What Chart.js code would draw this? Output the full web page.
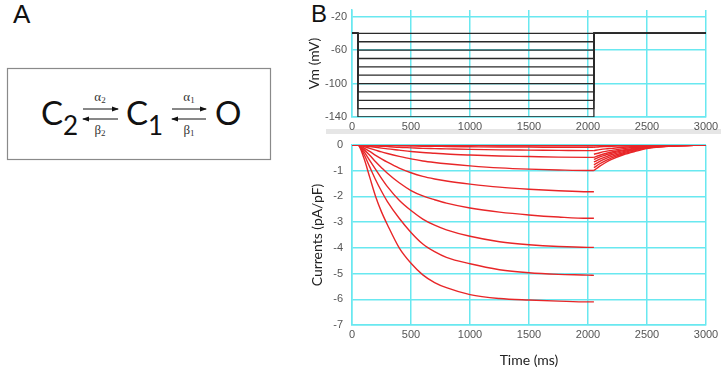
<!DOCTYPE html>
<html>
<head>
<meta charset="utf-8">
<script src="https://cdn.jsdelivr.net/npm/chart.js"></script>
<style>
    body { margin: 0; width: 721px; height: 369px; background: #fff; position: relative; overflow: hidden; }
    #scheme { position: absolute; left: 0; top: 0; }
    #band { position: absolute; left: 326px; top: 129px; width: 395px; height: 5px; background: #e6e6e6; }
    #vmChart { position: absolute; left: 300px; top: 0; }
    #curChart { position: absolute; left: 300px; top: 135px; }
</style>
</head>
<body>
<svg id="scheme" width="721" height="369">
    <defs>
        <marker id="head" markerWidth="7" markerHeight="6" refX="6" refY="3" orient="auto" markerUnits="userSpaceOnUse">
            <path d="M0,0.5 L7,3 L0,5.5 Z" fill="#111"></path>
        </marker>
    </defs>
    <text x="13" y="23" font-family="Liberation Sans, Arial" font-size="26" fill="#111">A</text>
    <text x="311" y="22" font-family="Liberation Sans, Arial" font-size="24" fill="#111">B</text>
    <rect x="7.5" y="68.5" width="263" height="91" fill="none" stroke="#8a8a8a" stroke-width="1.2"></rect>
    <g font-family="Lato, Open Sans, sans-serif" fill="#111">
        <text x="41" y="125" font-size="33">C<tspan dy="10" font-size="26">2</tspan></text>
        <text x="126" y="125" font-size="33">C<tspan dy="10" font-size="26">1</tspan></text>
        <text x="215" y="125" font-size="33">O</text>
    </g>
    <g stroke="#111" stroke-width="1">
        <line x1="83" y1="109" x2="118" y2="109" marker-end="url(#head)"></line>
        <line x1="118" y1="119" x2="83" y2="119" marker-end="url(#head)"></line>
        <line x1="172" y1="109" x2="206" y2="109" marker-end="url(#head)"></line>
        <line x1="206" y1="119" x2="172" y2="119" marker-end="url(#head)"></line>
    </g>
    <g font-family="Liberation Serif, DejaVu Serif, serif" font-size="13" fill="#333" text-anchor="middle">
        <text x="100" y="101">α<tspan dy="2" font-size="9">2</tspan></text>
        <text x="100" y="134">β<tspan dy="2" font-size="9">2</tspan></text>
        <text x="189" y="101">α<tspan dy="2" font-size="9">1</tspan></text>
        <text x="189" y="134">β<tspan dy="2" font-size="9">1</tspan></text>
    </g>
</svg>
<div id="band"></div>
<canvas id="vmChart" width="421" height="131"></canvas>
<canvas id="curChart" width="421" height="234"></canvas>
<script>
var timeTicks = [0, 500, 1000, 1500, 2000, 2500, 3000];
var vmTicks = [-140, -100, -60, -20];
var currentTicks = [-7, -6, -5, -4, -3, -2, -1, 0];

var holdingVm = -40;
var pulseStart = 50;
var pulseEnd = 2050;
var stepVm = [-40, -50, -60, -70, -80, -90, -100, -110, -120, -130, -140];

var pulseTimes = [0, 50, 100, 150, 200, 250, 300, 400, 500, 600, 700, 800, 1000, 1250, 1500, 1750, 2000, 2050];
var tailTimes = [2050, 2100, 2150, 2200, 2300, 2400, 2500, 2700, 3000];

// currents during the step (pA/pF), one array per step voltage
var iPulse140 = [0, 0, -0.5, -1.25, -2.0, -2.6, -3.1, -4.0, -4.6, -5.05, -5.35, -5.55, -5.82, -5.97, -6.03, -6.07, -6.1, -6.1];
var iPulse130 = [0, 0, -0.35, -0.85, -1.35, -1.8, -2.2, -2.85, -3.4, -3.85, -4.15, -4.37, -4.62, -4.85, -4.97, -5.03, -5.06, -5.07];
var iPulse120 = [0, 0, -0.25, -0.6, -0.95, -1.3, -1.62, -2.15, -2.55, -2.88, -3.12, -3.3, -3.55, -3.76, -3.88, -3.95, -3.98, -3.98];
var iPulse110 = [0, 0, -0.17, -0.4, -0.65, -0.88, -1.1, -1.47, -1.77, -1.98, -2.13, -2.26, -2.45, -2.61, -2.72, -2.8, -2.85, -2.85];
var iPulse100 = [0, 0, -0.11, -0.25, -0.4, -0.54, -0.67, -0.9, -1.08, -1.22, -1.32, -1.4, -1.52, -1.64, -1.72, -1.78, -1.82, -1.82];
var iPulse90 = [0, 0, -0.06, -0.13, -0.2, -0.27, -0.33, -0.44, -0.54, -0.62, -0.68, -0.73, -0.81, -0.89, -0.94, -0.97, -0.99, -0.99];
var iPulse80 = [0, 0, -0.03, -0.06, -0.09, -0.12, -0.15, -0.2, -0.25, -0.29, -0.32, -0.35, -0.39, -0.43, -0.45, -0.47, -0.48, -0.48];
var iPulse70 = [0, 0, -0.01, -0.03, -0.04, -0.05, -0.06, -0.09, -0.11, -0.13, -0.14, -0.15, -0.17, -0.19, -0.2, -0.21, -0.22, -0.22];
var iPulse60 = [0, 0, 0, -0.01, -0.01, -0.02, -0.02, -0.03, -0.04, -0.05, -0.05, -0.06, -0.07, -0.08, -0.08, -0.09, -0.09, -0.09];
var iPulse50 = [0, 0, 0, 0, 0, 0, -0.01, -0.01, -0.01, -0.02, -0.02, -0.02, -0.02, -0.03, -0.03, -0.03, -0.03, -0.03];
var iPulse40 = [0, 0, 0, 0, 0, 0, 0, 0, 0, 0, 0, 0, 0, 0, 0, 0, 0, 0];

// tail currents after return to holding
var iTail140 = [-0.36, -0.3, -0.25, -0.21, -0.14, -0.09, -0.05, -0.02, 0];
var iTail130 = [-0.56, -0.46, -0.39, -0.32, -0.22, -0.14, -0.08, -0.03, 0];
var iTail120 = [-0.66, -0.55, -0.46, -0.38, -0.26, -0.17, -0.09, -0.03, 0];
var iTail110 = [-0.77, -0.64, -0.53, -0.44, -0.3, -0.19, -0.11, -0.04, 0];
var iTail100 = [-0.88, -0.73, -0.61, -0.5, -0.34, -0.22, -0.12, -0.04, 0];
var iTail90 = [-0.99, -0.82, -0.68, -0.56, -0.38, -0.25, -0.14, -0.05, 0];
var iTail80 = [-0.48, -0.4, -0.33, -0.27, -0.19, -0.12, -0.07, -0.02, 0];
var iTail70 = [-0.22, -0.18, -0.15, -0.13, -0.09, -0.06, -0.03, -0.01, 0];
var iTail60 = [-0.09, -0.07, -0.06, -0.05, -0.04, -0.02, -0.01, 0, 0];
var iTail50 = [-0.03, -0.03, -0.02, -0.02, -0.01, -0.01, 0, 0, 0];
var iTail40 = [0, 0, 0, 0, 0, 0, 0, 0, 0];

var pulseTraces = [iPulse40, iPulse50, iPulse60, iPulse70, iPulse80, iPulse90, iPulse100, iPulse110, iPulse120, iPulse130, iPulse140];
var tailTraces = [iTail40, iTail50, iTail60, iTail70, iTail80, iTail90, iTail100, iTail110, iTail120, iTail130, iTail140];

var gridCyan = "rgb(105, 232, 240)";
var tickFont = { family: "Liberation Sans, Arial, sans-serif", size: 11 };
var titleFont = { family: "Lato, Open Sans, sans-serif", size: 14 };

function pointsOf(times, values) {
    return times.map((t, i) => { return { x: t, y: values[i] }; });
}

function fixedTicks(list) {
    return function (scale) {
        scale.ticks = list.map(v => { return { value: v }; });
    };
}

function plainLabel(value) {
    return String(value);
}

var vmDatasets = stepVm.map(function (v) {
    return {
        data: [
            { x: timeTicks[0], y: holdingVm },
            { x: pulseStart, y: holdingVm },
            { x: pulseStart, y: v },
            { x: pulseEnd, y: v },
            { x: pulseEnd, y: holdingVm },
            { x: timeTicks[timeTicks.length - 1], y: holdingVm }
        ],
        borderColor: "#2a2a2a",
        borderWidth: 1.3
    };
});

var curDatasets = [];
pulseTraces.forEach(function (trace) {
    curDatasets.push({ data: pointsOf(pulseTimes, trace) });
});
tailTraces.forEach(function (trace) {
    curDatasets.push({ data: pointsOf(tailTimes, trace) });
});
curDatasets.forEach(function (ds) {
    ds.borderColor = "rgb(232, 38, 40)";
    ds.borderWidth = 1.4;
    ds.cubicInterpolationMode = "monotone";
});

function xScale(showTitle) {
    return {
        type: "linear",
        min: timeTicks[0],
        max: timeTicks[timeTicks.length - 1],
        afterBuildTicks: fixedTicks(timeTicks),
        grid: { color: gridCyan, lineWidth: 1.5, drawTicks: false },
        border: { color: gridCyan, width: 1.5 },
        ticks: { font: tickFont, color: "#555", padding: 3, maxRotation: 0, callback: plainLabel },
        title: { display: showTitle, text: "Time (ms)", font: titleFont, color: "#222", padding: { top: 4, bottom: 0 } },
        afterFit: function (scale) {
            scale.height = showTitle ? 44 : 14;
            scale.paddingLeft = 0;
            scale.paddingRight = 0;
        }
    };
}

function yScale(min, max, ticks, label, titlePad, tickPad) {
    return {
        min: min,
        max: max,
        afterBuildTicks: fixedTicks(ticks),
        grid: { color: gridCyan, lineWidth: 1.5, drawTicks: false },
        border: { color: gridCyan, width: 1.5 },
        ticks: { font: tickFont, color: "#555", padding: tickPad, callback: plainLabel },
        title: { display: true, text: label, font: titleFont, color: "#222", padding: { top: titlePad, bottom: 0 } },
        afterFit: function (scale) {
            scale.width = 52;
            scale.paddingTop = 0;
            scale.paddingBottom = 0;
        }
    };
}

var common = {
    responsive: false,
    animation: false,
    elements: { point: { radius: 0 } },
    plugins: { legend: { display: false }, tooltip: { enabled: false } }
};

new Chart(document.getElementById("vmChart"), {
    type: "line",
    data: { datasets: vmDatasets },
    options: Object.assign({}, common, {
        layout: { padding: { top: 10, right: 15, left: 0, bottom: 0 } },
        scales: {
            x: xScale(false),
            y: yScale(-140, -12, vmTicks, "Vm (mV)", 6, 5)
        }
    })
});

new Chart(document.getElementById("curChart"), {
    type: "line",
    data: { datasets: curDatasets },
    options: Object.assign({}, common, {
        layout: { padding: { top: 10, right: 15, left: 0, bottom: 0 } },
        scales: {
            x: xScale(true),
            y: yScale(-7, 0, currentTicks, "Currents (pA/pF)", 9, 9)
        }
    })
});
</script>
</body>
</html>
